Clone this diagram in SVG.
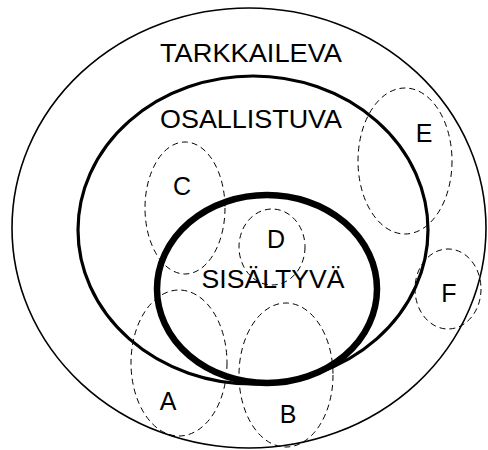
<svg xmlns="http://www.w3.org/2000/svg" width="488" height="450" viewBox="0 0 488 450">
<style>
.t{font-family:"Liberation Sans",Arial,sans-serif;font-size:25px;fill:#000;text-anchor:middle}
.d{fill:none;stroke:#000;stroke-width:1;stroke-dasharray:6,4}
</style>
<rect width="488" height="450" fill="#fff"/>
<g id="tarkkaileva">
<ellipse cx="249" cy="228" rx="237" ry="220" fill="none" stroke="#000" stroke-width="1.6"/>
<text class="t" x="251" y="62" textLength="182" lengthAdjust="spacingAndGlyphs">TARKKAILEVA</text>
</g>
<g id="osallistuva">
<ellipse cx="253" cy="230" rx="175" ry="154" fill="none" stroke="#000" stroke-width="3.2"/>
<text class="t" x="251" y="128" textLength="182" lengthAdjust="spacingAndGlyphs">OSALLISTUVA</text>
</g>
<g id="sisaltyva">
<ellipse cx="267" cy="289" rx="110" ry="94" fill="none" stroke="#000" stroke-width="6.5"/>
</g>
<g id="C"><ellipse class="d" cx="185" cy="208" rx="40" ry="66"/><text class="t" x="182" y="195">C</text></g>
<g id="E"><ellipse class="d" cx="405" cy="161" rx="47" ry="73"/><text class="t" x="424" y="142">E</text></g>
<g id="D"><ellipse class="d" cx="272" cy="247" rx="33" ry="38"/><text class="t" x="276" y="248">D</text></g>
<g id="F"><ellipse class="d" cx="448" cy="289" rx="33" ry="40"/><text class="t" x="449" y="302">F</text></g>
<g id="A"><ellipse class="d" cx="179" cy="363" rx="48" ry="73"/><text class="t" x="168" y="410">A</text></g>
<g id="B"><ellipse class="d" cx="286" cy="375" rx="47" ry="72"/><text class="t" x="288" y="423">B</text></g>
<g id="sisaltyva-label"><text class="t" x="273" y="288" textLength="143" lengthAdjust="spacingAndGlyphs">SISÄLTYVÄ</text></g>
<g id="connectors"/>
</svg>
